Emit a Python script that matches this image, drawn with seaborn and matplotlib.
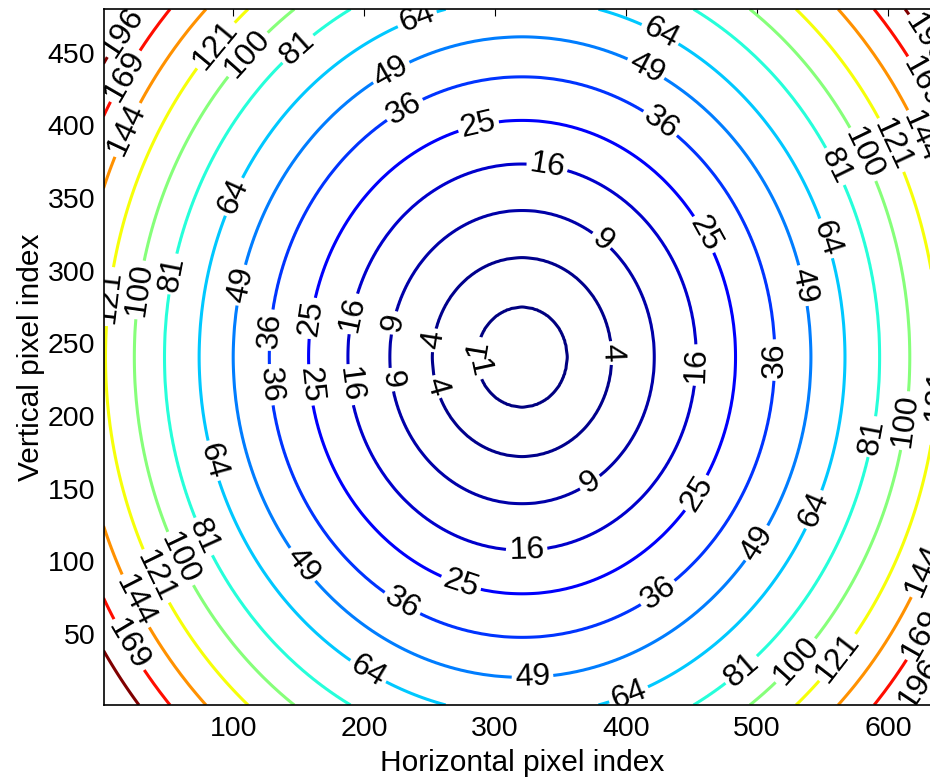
import numpy as np
import matplotlib
matplotlib.use("Agg")
import matplotlib.pyplot as plt
from matplotlib.colors import LinearSegmentedColormap
import seaborn as sns

# Contour levels and the radius (in pixels) at which each level sits
levels = [1, 4, 9, 16, 25, 36, 49, 64, 81, 100, 121, 144, 169, 196]
radii = [34.5, 68.5, 101, 133, 163, 193, 220.5, 246.5, 273, 296, 318, 340, 360, 378]
center_x, center_y = 320.5, 240.5
width_px, height_px = 640, 480

xticks = [100, 200, 300, 400, 500, 600]
yticks = [50, 100, 150, 200, 250, 300, 350, 400, 450]

# Where the contour labels sit (data coords)
label_pos = [
    (13.6, 465.7), (15.9, 434.8), (15.9, 398.3), (8.2, 281.9), (86.2, 455.4),
    (108.9, 450.6), (148.6, 453.4), (240.1, 474), (425.6, 462.3), (221, 436),
    (412.6, 434.8), (231, 410.7), (422, 396.9), (287.4, 398.9), (339.3, 369.3),
    (379.7, 319.1), (455.9, 323.2), (97.6, 352.1), (549, 321.2), (105.1, 290.2),
    (530, 288.8), (54, 297.7), (28.9, 286.7), (553.8, 369.1), (576.8, 378.5),
    (599.7, 385.4), (620, 390), (620, 426.7), (623.8, 456.8),
    (126.7, 259.2), (126.7, 221.3), (158.5, 267.4), (158.5, 221.3),
    (187.5, 270.9), (187.5, 221.3), (219.5, 264.7), (219.5, 224.8),
    (251.5, 252.3), (253.5, 219.5), (286, 246.5), (285, 232.8),
    (385.6, 243.1), (450.5, 235.1), (507.9, 238.5),
    (372.1, 154.5), (453.6, 146.9), (324, 108.4), (272.9, 82.2), (227.1, 67.8),
    (423.2, 79.5), (328.6, 18.2), (149.4, 95.3), (499.5, 112.5),
    (78.5, 167.6), (200.4, 20.3), (402.6, 6.5), (543.9, 135.3),
    (72.2, 114.6), (53.2, 98.8), (34.9, 87.1), (19.7, 69.9), (13.6, 38.9),
    (488.2, 24.9), (529.8, 31.2), (558.9, 35.4), (624, 95), (620, 52.6),
    (620, 18.2), (608.5, 197.2), (581.8, 186.9), (630, 215),
]

# Build the field: radial distance from the centre mapped to the level values
x = np.arange(1, width_px + 1)
y = np.arange(1, height_px + 1)
X, Y = np.meshgrid(x, y)
R = np.hypot(X - center_x, Y - center_y)
r_knots = [0] + radii
z_knots = [0] + levels
slope = (z_knots[-1] - z_knots[-2]) / (r_knots[-1] - r_knots[-2])
r_knots = r_knots + [500]
z_knots = z_knots + [z_knots[-1] + slope * (500 - r_knots[-2])]
Z = np.interp(R, r_knots, z_knots)

# MATLAB-style jet
jet_ml = LinearSegmentedColormap.from_list("jet_ml", [
    (0.0, (0, 0, 0.5)), (0.125, (0, 0, 1)), (0.375, (0, 1, 1)),
    (0.625, (1, 1, 0)), (0.875, (1, 0, 0)), (1.0, (0.5, 0, 0))])

sns.set_style("white")
plt.rcParams['font.family'] = ['Liberation Sans', 'DejaVu Sans']
plt.rcParams['text.color'] = 'black'
plt.rcParams['axes.labelcolor'] = 'black'

fig = plt.figure(figsize=(9.3, 7.82), dpi=100)
ax = fig.add_axes([0.1113, 0.0985, 0.9001, 0.8897])
ax.set_xlim(1, width_px)
ax.set_ylim(1, height_px)

cs = ax.contour(X, Y, Z, levels=levels, cmap=jet_ml, linewidths=2.2)
ax.clabel(cs, fmt="%d", fontsize=23, colors="black", inline=True,
          inline_spacing=3, manual=label_pos)

ax.set_xticks(xticks)
ax.set_yticks(yticks)
ax.tick_params(direction="in", top=True, right=True, length=5, width=0.8,
               labelsize=20.5, colors="black")
ax.tick_params(axis="x", pad=8)
ax.tick_params(axis="y", pad=6)
for s in ax.spines.values():
    s.set_color("black")
    s.set_linewidth(1.2)

ax.set_xlabel("Horizontal pixel index", fontsize=21.5, labelpad=5)
ax.set_ylabel("Vertical pixel index", fontsize=21.5, labelpad=2)

fig.savefig("out.png", dpi=100)
